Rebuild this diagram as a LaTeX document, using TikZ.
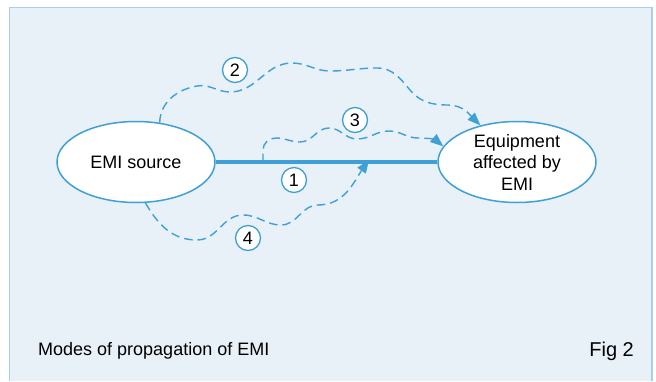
\documentclass[tikz,border=0pt]{standalone}
\usepackage{fontspec}
\setmainfont{Liberation Sans}
\usetikzlibrary{positioning,
        shapes,
        arrows.meta}
\usepackage{xcolor}
\definecolor{emiblue}{RGB}{62,160,214}
\definecolor{panel}{RGB}{232,240,248}
\definecolor{panelline}{RGB}{168,206,234}

\begin{document}
\begin{tikzpicture}[x=1pt,y=1pt,
        blob/.style={ellipse,draw=emiblue,line width=1.5pt,fill=white,minimum width=158pt,minimum height=81pt,inner sep=0pt,align=center,font=\fontsize{18}{21.5}\selectfont},
        num/.style={circle,draw=emiblue,line width=1.3pt,fill=white,minimum size=25pt,inner sep=0pt,font=\fontsize{18}{18}\selectfont},
        wave/.style={emiblue,line width=1.4pt,dash pattern=on 8.5pt off 5pt,-{Triangle[length=13pt,width=10pt]}}]
            \useasboundingbox (0,-381) rectangle (656,0);
            \fill [panel] (9.5,-7.5) rectangle (652,-381);
            \draw [panelline,line width=1.5pt] (9.5,-381) -- (9.5,-7.5) -- (652,-7.5) -- (652,-381);

            \node [blob] (src) at (136,-162) {EMI source};
            \node [blob] (eqp) at (517,-162) {Equipment\\affected by\\EMI};
            \coordinate (tap3) at (263,-162);
            \coordinate (hit4) at (369,-160);

            \draw [emiblue,line width=3.3pt] (src) -- (eqp);
            \draw [wave] (src.59) to[out=88,in=190] (197,-86) to[out=10,in=180] (230,-92)
                to[out=0,in=180] (292,-63) to[out=0,in=180] (330,-71) to[out=0,in=180] (377,-68)
                to[out=0,in=130] (410,-90) to[out=-50,in=180] (448,-105) to[out=0,in=135] (eqp.135);
            \draw [wave] (tap3) -- (263,-150) to[out=90,in=180] (276,-138) to[out=0,in=180] (300,-142)
                to[out=0,in=180] (329,-128) to[out=0,in=180] (357,-139) to[out=0,in=180] (389,-131)
                to[out=0,in=180] (418,-138) to[out=0,in=140] (eqp.168);
            \draw [wave] (src.-77) to[out=-60,in=180] (197,-240) to[out=0,in=180] (243,-215)
                to[out=0,in=180] (281,-225) to[out=0,in=180] (318,-205) to[out=0,in=235] (hit4);

            \node [num] (n1) at (294,-180) {1};
            \node [num] (n2) at (235,-70) {2};
            \node [num] (n3) at (355,-120) {3};
            \node [num] (n4) at (248,-238) {4};

            \node [anchor=base west,inner sep=0pt,font=\fontsize{18}{21.5}\selectfont] (cap) at (38,-355) {Modes of propagation of EMI};
            \node [anchor=base east,inner sep=0pt,font=\fontsize{20}{24}\selectfont] (fig) at (634,-356) {Fig 2};
        \end{tikzpicture}
\end{document}
